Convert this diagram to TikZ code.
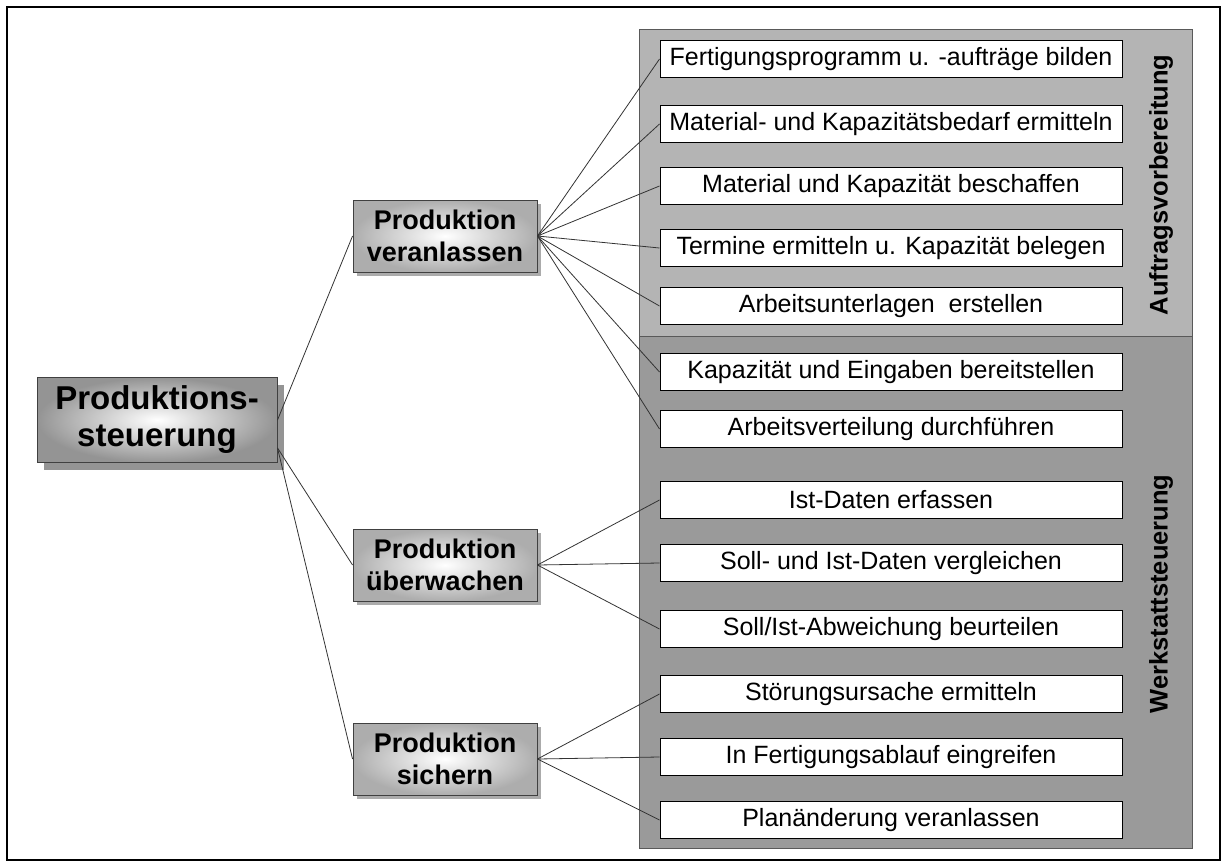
\documentclass[tikz,border=0pt]{standalone}
\usepackage{fontspec}
\setmainfont{Liberation Sans}
\usetikzlibrary{shadows,calc}
\definecolor{panelA}{HTML}{B4B4B4}
\definecolor{panelB}{HTML}{9A9A9A}
\begin{document}
\begin{tikzpicture}[x=1pt,y=-1pt,
  item/.style={draw=black, fill=white, line width=1pt, minimum width=462pt, minimum height=37pt, inner sep=0pt, font=\fontsize{25}{29}\selectfont},
  mid/.style={draw=black!75, line width=0.9pt, shading=radial, inner color=white, outer color=black!32, minimum width=184pt, minimum height=72pt, inner sep=0pt, align=center, font=\bfseries\fontsize{27}{32}\selectfont, drop shadow={shadow xshift=4pt, shadow yshift=-4pt, fill=black!55, opacity=0.6}},
  top/.style={draw=black!75, line width=1pt, shading=radial, inner color=white, outer color=black!42, minimum width=240pt, minimum height=85pt, inner sep=0pt, align=center, font=\bfseries\fontsize{33}{37}\selectfont, drop shadow={shadow xshift=7pt, shadow yshift=-7pt, fill=black!60, opacity=0.7}},
  vlabel/.style={rotate=90, font=\bfseries\fontsize{25.5}{30}\selectfont},
  link/.style={draw=black!80, line width=0.8pt}
]
\useasboundingbox (0,0) rectangle (1227,865);
\draw[line width=2.5pt] (7,7) rectangle (1220,860);
% panels
\draw[fill=panelA, draw=black!65, line width=1pt] (639,29) rectangle (1192,336);
\draw[fill=panelB, draw=black!65, line width=1pt] (639,336) rectangle (1192,848);
\node[vlabel] (lblA) at (1161,185) {Auftragsvorbereitung};
\node[vlabel] (lblB) at (1161,594) {Werkstattsteuerung};
% items
\node[item] (i1) at (891,59) {Fertigungsprogramm u. -aufträge bilden};
\node[item] (i2) at (891,124) {Material- und Kapazitätsbedarf ermitteln};
\node[item] (i3) at (891,186) {Material und Kapazität beschaffen};
\node[item] (i4) at (891,248) {Termine ermitteln u. Kapazität belegen};
\node[item] (i5) at (891,306) {Arbeitsunterlagen\ \ erstellen};
\node[item] (i6) at (891,372) {Kapazität und Eingaben bereitstellen};
\node[item] (i7) at (891,429) {Arbeitsverteilung durchführen};
\node[item] (i8) at (891,500) {Ist-Daten erfassen};
\node[item] (i9) at (891,563) {Soll- und Ist-Daten vergleichen};
\node[item] (i10) at (891,629) {Soll/Ist-Abweichung beurteilen};
\node[item] (i11) at (891,694) {Störungsursache ermitteln};
\node[item] (i12) at (891,757) {In Fertigungsablauf eingreifen};
\node[item] (i13) at (891,820) {Planänderung veranlassen};
% main nodes
\node[top] (main) at (157,420) {Produktions-\\steuerung};
\node[mid] (m1) at (445,236) {Produktion\\veranlassen};
\node[mid] (m2) at (445,565) {Produktion\\überwachen};
\node[mid] (m3) at (445,759) {Produktion\\sichern};
% connectors
\coordinate (mainlow) at ($(main.east)!0.65!(main.south east)$);
\draw[link] (main.east) -- (m1.west);
\draw[link] (mainlow) -- (m2.west);
\draw[link] (mainlow) -- (m3.west);
\foreach \i in {1,...,7} \draw[link] (m1.east) -- (i\i.west);
\foreach \i in {8,9,10} \draw[link] (m2.east) -- (i\i.west);
\foreach \i in {11,12,13} \draw[link] (m3.east) -- (i\i.west);
\end{tikzpicture}
\end{document}
